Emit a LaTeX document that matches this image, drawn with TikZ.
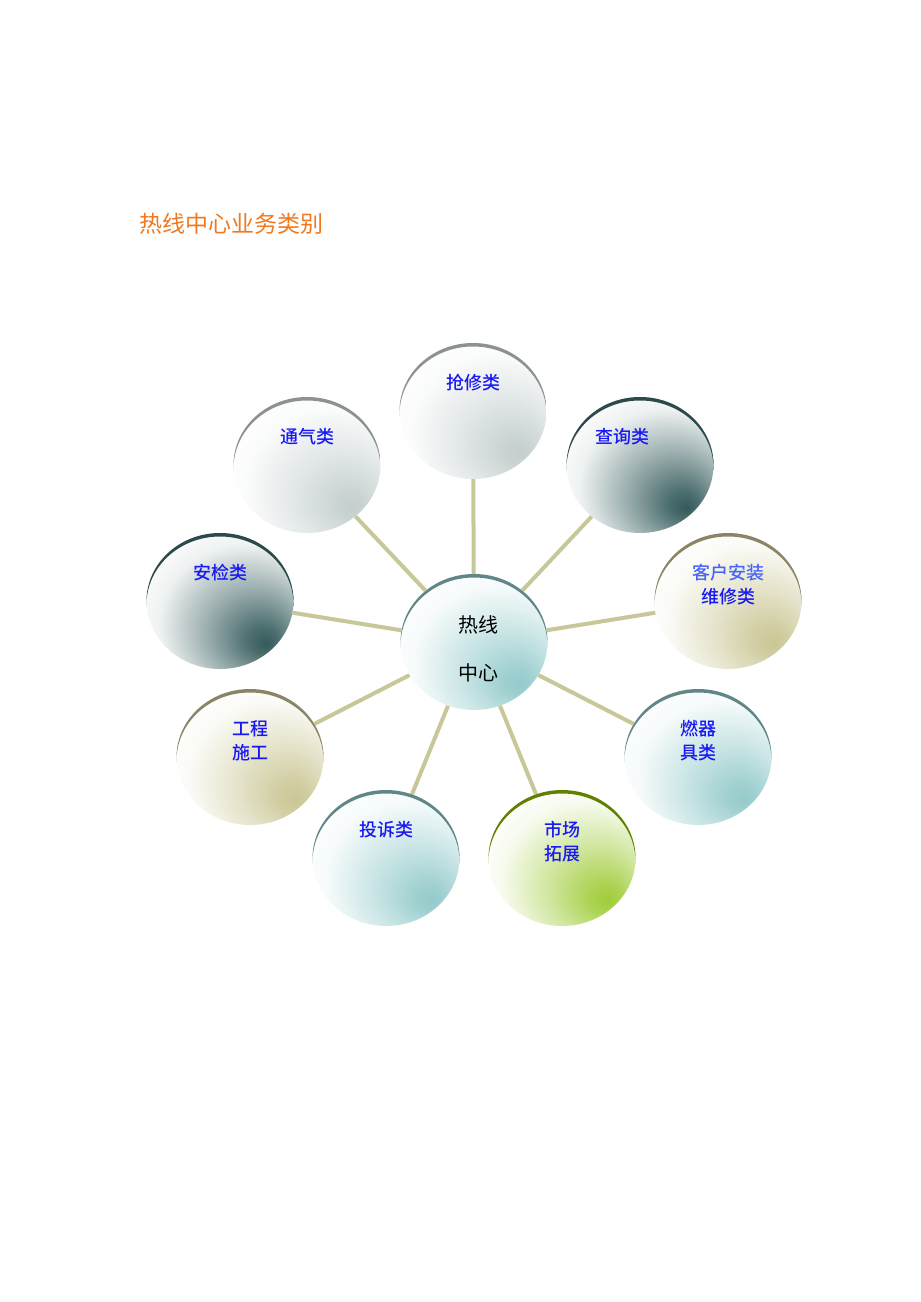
\documentclass[tikz,border=0pt]{standalone}
\usepackage{fontspec}
\setmainfont{Noto Sans CJK SC}
\newfontfamily\tagfont{Noto Sans CJK SC}[UprightFont={* Medium}]
\usetikzlibrary{shapes.geometric, positioning, backgrounds}
\definecolor{titleorange}{RGB}{242,120,30}
\definecolor{labelblue}{RGB}{24,24,245}
\definecolor{lightblue}{RGB}{70,100,250}
\definecolor{spoke}{RGB}{200,199,154}
\definecolor{greyball}{RGB}{196,206,206}
\definecolor{greyrim}{RGB}{140,146,146}
\definecolor{tealball}{RGB}{52,90,91}
\definecolor{tealrim}{RGB}{44,74,75}
\definecolor{khakiball}{RGB}{202,198,148}
\definecolor{khakirim}{RGB}{138,133,102}
\definecolor{aquaball}{RGB}{148,202,203}
\definecolor{aquarim}{RGB}{96,134,135}
\definecolor{greenball}{RGB}{160,204,58}
\definecolor{greenrim}{RGB}{96,128,0}
\colorlet{ballc}{greyball}
\colorlet{rimc}{greyrim}
% dark spot at the lower right, fading to white towards the upper left
\pgfdeclareradialshading[ballc]{ball}{\pgfpoint{16bp}{-16bp}}{%
  color(0bp)=(ballc); color(5bp)=(ballc!88!white); color(16bp)=(ballc!50!white);
  color(29bp)=(ballc!8!white); color(37bp)=(white); color(60bp)=(white)}
\tikzset{
ball/.style 2 args={ellipse, minimum width=147bp, minimum height=136bp, inner sep=0pt,
  /utils/exec={\colorlet{ballc}{#1}\colorlet{rimc}{#2}},
  shading=ball,
  path picture={\fill[rimc, even odd rule]
    (path picture bounding box.south west) rectangle (path picture bounding box.north east)
    ([yshift=-3.5bp]path picture bounding box.center) ellipse [x radius=73.5bp, y radius=68bp];}},
tag/.style={text=labelblue, font=\tagfont\fontsize{18bp}{24bp}\selectfont, align=center, inner sep=0pt},
spokeline/.style={spoke, line width=4bp},
}
\begin{document}
\begin{tikzpicture}[x=1bp, y=-1bp]
\useasboundingbox (0,0) rectangle (920,1302);
\node[anchor=west, text=titleorange, font=\fontsize{23bp}{28bp}\selectfont, inner sep=0pt] (title) at (139,224) {热线中心业务类别};

% the hub and the nine service groups
\node[ball={aquaball}{aquarim}] (hc) at (474,642) {};
\node[ball={greyball}{greyrim}] (c1) at (473,411) {};
\node[ball={tealball}{tealrim}] (c2) at (640,465) {};
\node[ball={khakiball}{khakirim}] (c3) at (728,601) {};
\node[ball={aquaball}{aquarim}] (c4) at (698,757) {};
\node[ball={greenball}{greenrim}] (c5) at (562,858) {};
\node[ball={aquaball}{aquarim}] (c6) at (386,858) {};
\node[ball={khakiball}{khakirim}] (c7) at (250,757) {};
\node[ball={tealball}{tealrim}] (c8) at (220,601) {};
\node[ball={greyball}{greyrim}] (c9) at (307,465) {};

\begin{scope}[on background layer]
  \foreach \i in {1,...,9}
    \draw[spokeline] (hc) -- (c\i);
\end{scope}

\node[tag, text=black, font=\fontsize{20bp}{24bp}\selectfont, below=42bp of hc.north, xshift=4bp] (th) {热线\\[24bp]中心};
\node[tag, below=31.5bp of c1.north] (t1) {抢修类};
\node[tag, below=31.5bp of c2.north, xshift=-18bp] (t2) {查询类};
\node[tag, below=31.5bp of c3.north] (t3) {\textcolor{lightblue}{客户安装}\\维修类};
\node[tag, below=31.5bp of c4.north] (t4) {燃器\\具类};
\node[tag, below=31.5bp of c5.north] (t5) {市场\\拓展};
\node[tag, below=31.5bp of c6.north] (t6) {投诉类};
\node[tag, below=31.5bp of c7.north] (t7) {工程\\施工};
\node[tag, below=31.5bp of c8.north] (t8) {安检类};
\node[tag, below=31.5bp of c9.north] (t9) {通气类};
\end{tikzpicture}
\end{document}
